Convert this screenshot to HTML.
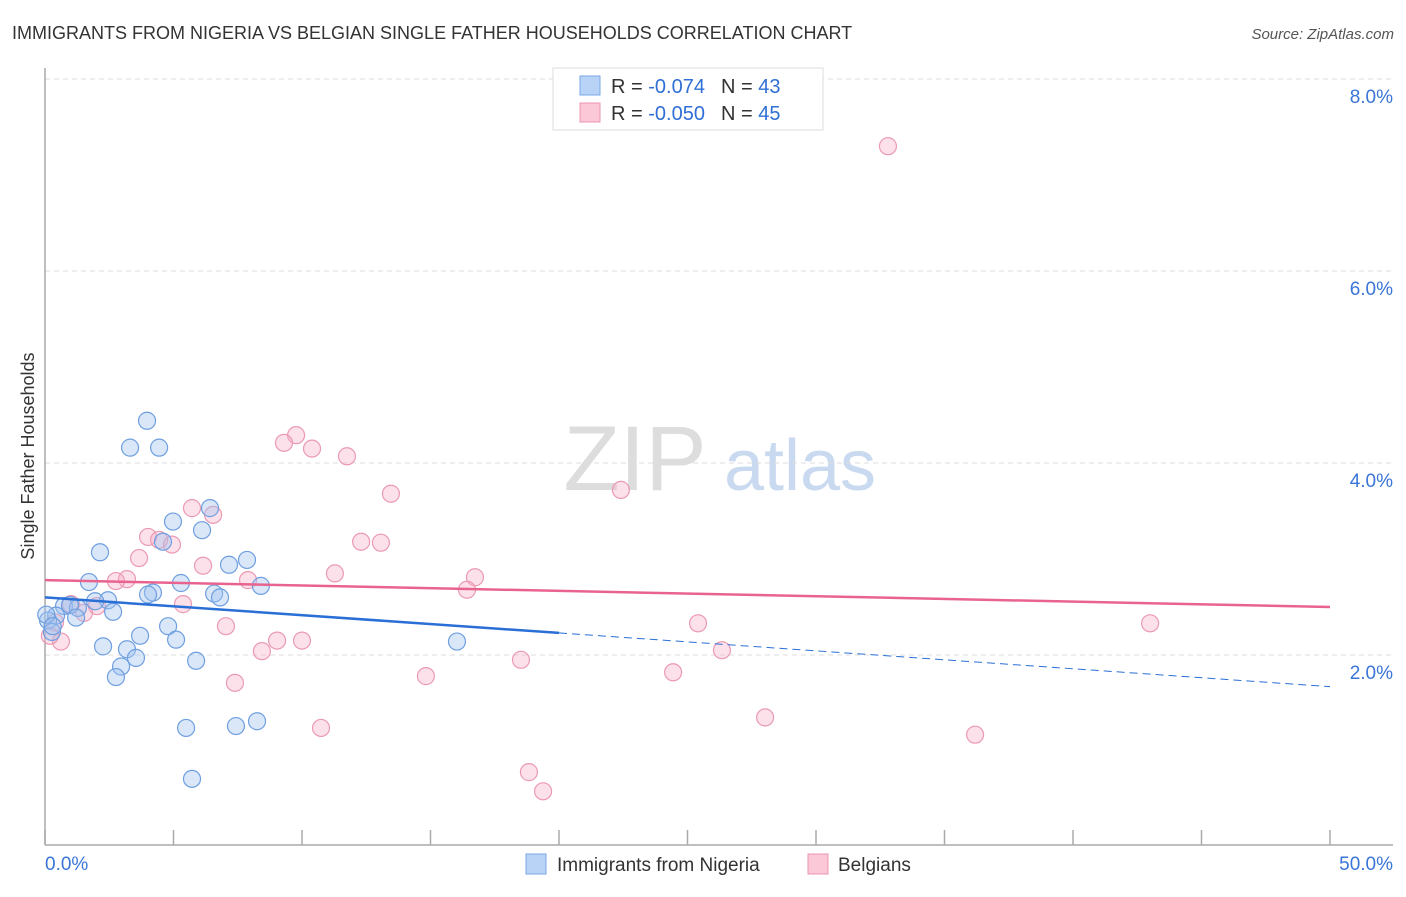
<!DOCTYPE html>
<html><head><meta charset="utf-8"><style>
body{margin:0;background:#fff;font-family:"Liberation Sans",sans-serif;}
svg text{font-family:"Liberation Sans",sans-serif;}
</style></head><body>
<svg id="chart" width="1406" height="892" viewBox="0 0 1406 892" xmlns="http://www.w3.org/2000/svg">
<text x="12" y="39" font-size="18" fill="#333">IMMIGRANTS FROM NIGERIA VS BELGIAN SINGLE FATHER HOUSEHOLDS CORRELATION CHART</text>
<text x="1394" y="39" font-size="15" fill="#555" font-style="italic" text-anchor="end">Source: ZipAtlas.com</text>
<g>
<text x="635" y="490" font-size="92" fill="#ddd" font-family="Liberation Serif" text-anchor="middle" font-family="Liberation Serif">ZIP</text>
<text x="800" y="490" font-size="72" fill="#c9daf0" text-anchor="middle">atlas</text>
</g>
<g id="grid"></g>
<g id="axes"></g>
<g id="marks"></g>
<text transform="translate(34,456) rotate(-90)" font-size="18" fill="#333" text-anchor="middle">Single Father Households</text>
<g>
<rect x="553" y="68" width="270" height="62" fill="#fff" stroke="#ddd"/>
<rect x="580" y="76" width="20" height="19" fill="#b8d3f5" stroke="#7aa7e6"/>
<rect x="580" y="103" width="20" height="19" fill="#fbc8d7" stroke="#eb95b0"/>
<text x="611" y="93" font-size="20" fill="#333">R = <tspan fill="#2f6fd6"> -0.074</tspan><tspan dx="16" fill="#333">N = </tspan><tspan fill="#2f6fd6">43</tspan></text>
<text x="611" y="120" font-size="20" fill="#333">R = <tspan fill="#2f6fd6">-0.050</tspan><tspan dx="16" fill="#333">N = </tspan><tspan fill="#2f6fd6">45</tspan></text>
</g>
<g>
<rect x="526" y="854" width="20" height="20" fill="#b8d3f5" stroke="#7aa7e6"/>
<text x="557" y="871" font-size="19" fill="#333">Immigrants from Nigeria</text>
<rect x="808" y="854" width="20" height="20" fill="#fbc8d7" stroke="#eb95b0"/>
<text x="838" y="871" font-size="19" fill="#333">Belgians</text>
</g>
</svg>
<script>
const yTicks=[2,4,6,8];
const yTickLabels=["2.0%","4.0%","6.0%","8.0%"];
const xTicks=[0,5,10,15,20,25,30,35,40,45,50];
const xEndLabels=["0.0%","50.0%"];
const nigeriaX=[3.97,3.31,4.44,4.98,6.42,6.11,4.59,2.14,7.16,7.86,1.71,5.29,8.40,4.20,4.01,6.58,6.81,2.45,1.95,0.74,1.28,0.97,2.65,0.43,0.12,0.27,1.21,3.70,4.79,5.10,2.26,3.19,3.54,2.96,5.88,2.76,16.03,5.49,7.43,8.25,5.72,0.05,0.3];
const nigeriaY=[4.44,4.16,4.16,3.39,3.53,3.30,3.18,3.07,2.94,2.99,2.76,2.75,2.72,2.65,2.63,2.64,2.60,2.57,2.56,2.51,2.49,2.52,2.45,2.41,2.36,2.24,2.39,2.20,2.30,2.16,2.09,2.06,1.97,1.88,1.94,1.77,2.14,1.24,1.26,1.31,0.71,2.42,2.3];
const belgX=[32.80,9.77,9.30,10.39,11.75,13.46,22.41,5.72,6.54,4.01,4.44,4.94,12.30,13.07,3.66,6.15,11.28,16.73,3.19,2.76,7.90,16.42,5.37,1.01,2.02,1.52,7.04,25.41,43.00,9.03,10.00,8.44,26.34,0.62,0.19,18.52,24.44,14.82,7.39,28.02,10.74,36.19,18.83,19.38,0.39];
const belgY=[7.30,4.29,4.21,4.15,4.07,3.68,3.72,3.53,3.46,3.23,3.20,3.15,3.18,3.17,3.01,2.93,2.85,2.81,2.79,2.77,2.78,2.68,2.53,2.53,2.51,2.44,2.30,2.33,2.33,2.15,2.15,2.04,2.05,2.14,2.20,1.95,1.82,1.78,1.71,1.35,1.24,1.17,0.78,0.58,2.34];
const nigeriaTrend=[2.60,2.23,1.67]; // at 0%, 20%, 50%
const belgTrend=[2.78,2.50]; // at 0%, 50%
const X=v=>45+v/50*1285;
const Y=v=>847-v*96;
const NS="http://www.w3.org/2000/svg";
function mk(tag,attrs,parent){const e=document.createElementNS(NS,tag);for(const k in attrs)e.setAttribute(k,attrs[k]);parent.appendChild(e);return e;}
const grid=document.getElementById('grid'),axes=document.getElementById('axes'),marks=document.getElementById('marks');
yTicks.forEach((t,i)=>{
const l=mk('line',{x1:45,x2:1393,y1:Y(t),y2:Y(t),stroke:'#ddd','stroke-dasharray':'5,4'},grid);


const tx=mk('text',{x:1393,y:Y(t)+24,'font-size':19,fill:'#3a75d8','text-anchor':'end'},axes);
tx.textContent=yTickLabels[i];


});
const topG=mk('line',{x1:45,x2:1393,y1:79,y2:79,stroke:'#ddd','stroke-dasharray':'5,4'},grid);
const ya=mk('line',{x1:45,x2:45,y1:68,y2:845,stroke:'#aaa','stroke-width':1.5},axes);


const xa=mk('line',{x1:45,x2:1393,y1:845,y2:845,stroke:'#aaa','stroke-width':1.5},axes);


xTicks.forEach(t=>{
const l=mk('line',{x1:X(t),x2:X(t),y1:830,y2:845,stroke:'#aaa','stroke-width':1.5},axes);


});
const xl0=mk('text',{x:45,y:870,'font-size':19,fill:'#3a75d8'},axes);
xl0.textContent=xEndLabels[0];


const xl1=mk('text',{x:1393,y:870,'font-size':19,fill:'#3a75d8','text-anchor':'end'},axes);
xl1.textContent=xEndLabels[1];


belgX.forEach((x,i)=>{
const c=mk('circle',{cx:X(x),cy:Y(belgY[i]),r:8.5,fill:'rgba(246,170,195,0.35)',stroke:'#eb9ab3','stroke-width':1.2},marks);


});
nigeriaX.forEach((x,i)=>{
const c=mk('circle',{cx:X(x),cy:Y(nigeriaY[i]),r:8.5,fill:'rgba(160,195,240,0.4)',stroke:'#6f9fe0','stroke-width':1.2},marks);


});
const bt=mk('line',{x1:X(0),y1:Y(belgTrend[0]),x2:X(50),y2:Y(belgTrend[1]),stroke:'#e8648f','stroke-width':2.5},marks);


const nt=mk('line',{x1:X(0),y1:Y(nigeriaTrend[0]),x2:X(20),y2:Y(nigeriaTrend[1]),stroke:'#2a6fd6','stroke-width':2.5},marks);


const nd=mk('line',{x1:X(20),y1:Y(nigeriaTrend[1]),x2:X(50),y2:Y(nigeriaTrend[2]),stroke:'#2a6fd6','stroke-width':1,'stroke-dasharray':'8,5'},marks);


</script>
</body></html>
